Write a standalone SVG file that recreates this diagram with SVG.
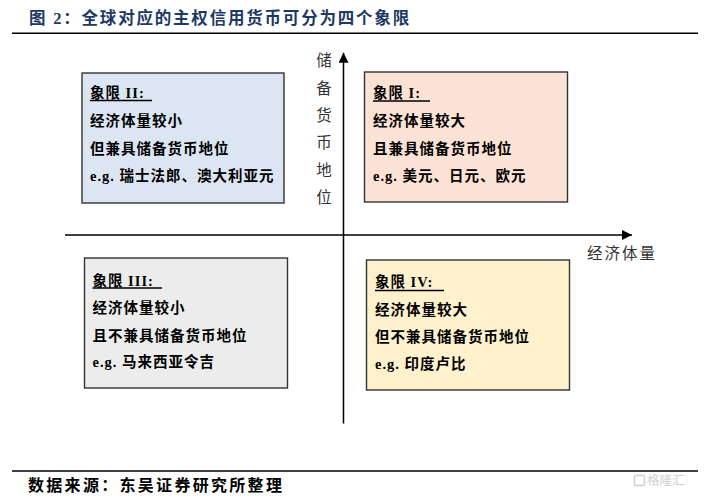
<svg xmlns="http://www.w3.org/2000/svg" width="708" height="499" viewBox="0 0 708 499">
<style>
.bg{fill:#ffffff}
.rule{stroke:#000;stroke-width:1.5}
.axis{stroke:#000;stroke-width:1.5;fill:none}
.box{stroke:#333;stroke-width:1.4}
.t{font-family:"Liberation Serif","Noto Sans CJK SC",serif;font-weight:700;font-size:14.5px;fill:#000;letter-spacing:1px}
.ul{stroke:#000;stroke-width:1.3}
.lab{font-family:"Noto Sans CJK SC",sans-serif;font-size:15.5px;fill:#333}
.title{font-family:"Liberation Serif","Noto Sans CJK SC",serif;font-weight:700;font-size:16.5px;fill:#1f3864;letter-spacing:1.8px}
.src{font-family:"Noto Sans CJK SC",sans-serif;font-weight:700;font-size:16px;fill:#000;letter-spacing:2.3px}
.wm{font-family:"Noto Sans CJK SC",sans-serif;font-size:12.5px;fill:#cfcfcf}
</style>
<defs>
<marker id="arr" viewBox="0 0 10 10" refX="10" refY="5" markerWidth="10" markerHeight="10" markerUnits="userSpaceOnUse" orient="auto">
<path d="M0,0 L10,5 L0,10 z" fill="#000"/>
</marker>
</defs>
<rect class="bg" x="0" y="0" width="708" height="499"/>

<g id="title">
<text class="title" x="29" y="24">图 2：全球对应的主权信用货币可分为四个象限</text>
<line class="rule" x1="12" y1="33.3" x2="698" y2="33.3"/>
</g>

<g id="connectors">
<line class="axis" x1="65" y1="235" x2="632" y2="235" marker-end="url(#arr)"/>
<line class="axis" x1="343.5" y1="423.5" x2="343.5" y2="52.7" marker-end="url(#arr)"/>
</g>

<g id="y-label">
<text class="lab" x="324" y="66" text-anchor="middle">储</text>
<text class="lab" x="324" y="93.5" text-anchor="middle">备</text>
<text class="lab" x="324" y="121" text-anchor="middle">货</text>
<text class="lab" x="324" y="148" text-anchor="middle">币</text>
<text class="lab" x="324" y="175.5" text-anchor="middle">地</text>
<text class="lab" x="324" y="203" text-anchor="middle">位</text>
</g>
<g id="x-label">
<text class="lab" x="587" y="259" style="letter-spacing:2px">经济体量</text>
</g>

<g id="quadrant-2">
<rect class="box" x="82" y="73" width="202" height="130" fill="#dce6f2"/>
<text class="t" x="90" y="98">象限 II:</text>
<line class="ul" x1="90" y1="100.5" x2="152" y2="100.5"/>
<text class="t" x="90" y="126">经济体量较小</text>
<text class="t" x="90" y="153.5">但兼具储备货币地位</text>
<text class="t" x="90" y="181">e.g. 瑞士法郎、澳大利亚元</text>
</g>

<g id="quadrant-1">
<rect class="box" x="364.5" y="72" width="203" height="130" fill="#fbe2d5"/>
<text class="t" x="373" y="98">象限 I:</text>
<line class="ul" x1="373" y1="101" x2="430" y2="101"/>
<text class="t" x="373" y="126">经济体量较大</text>
<text class="t" x="373" y="153.5">且兼具储备货币地位</text>
<text class="t" x="373" y="181">e.g. 美元、日元、欧元</text>
</g>

<g id="quadrant-3">
<rect class="box" x="84.5" y="258" width="203" height="130" fill="#ececec"/>
<text class="t" x="92.5" y="285.5">象限 III:</text>
<line class="ul" x1="92.5" y1="288" x2="162" y2="288"/>
<text class="t" x="92.5" y="312.5">经济体量较小</text>
<text class="t" x="92.5" y="340.5">且不兼具储备货币地位</text>
<text class="t" x="92.5" y="367">e.g. 马来西亚令吉</text>
</g>

<g id="quadrant-4">
<rect class="box" x="366.5" y="260" width="203" height="130" fill="#fff1cc"/>
<text class="t" x="375" y="287">象限 IV:</text>
<line class="ul" x1="375" y1="290.5" x2="444" y2="290.5"/>
<text class="t" x="375" y="314.5">经济体量较大</text>
<text class="t" x="375" y="342">但不兼具储备货币地位</text>
<text class="t" x="375" y="368.5">e.g. 印度卢比</text>
</g>

<g id="source">
<line class="rule" x1="12" y1="471" x2="698" y2="471"/>
<text class="src" x="28" y="491">数据来源：东吴证券研究所整理</text>
</g>

<g id="watermark">
<rect x="634.5" y="475.5" width="10" height="10" rx="1.5" fill="none" stroke="#cfcfcf" stroke-width="1.5"/>
<text class="wm" x="647" y="485">格隆汇</text>
</g>
</svg>
